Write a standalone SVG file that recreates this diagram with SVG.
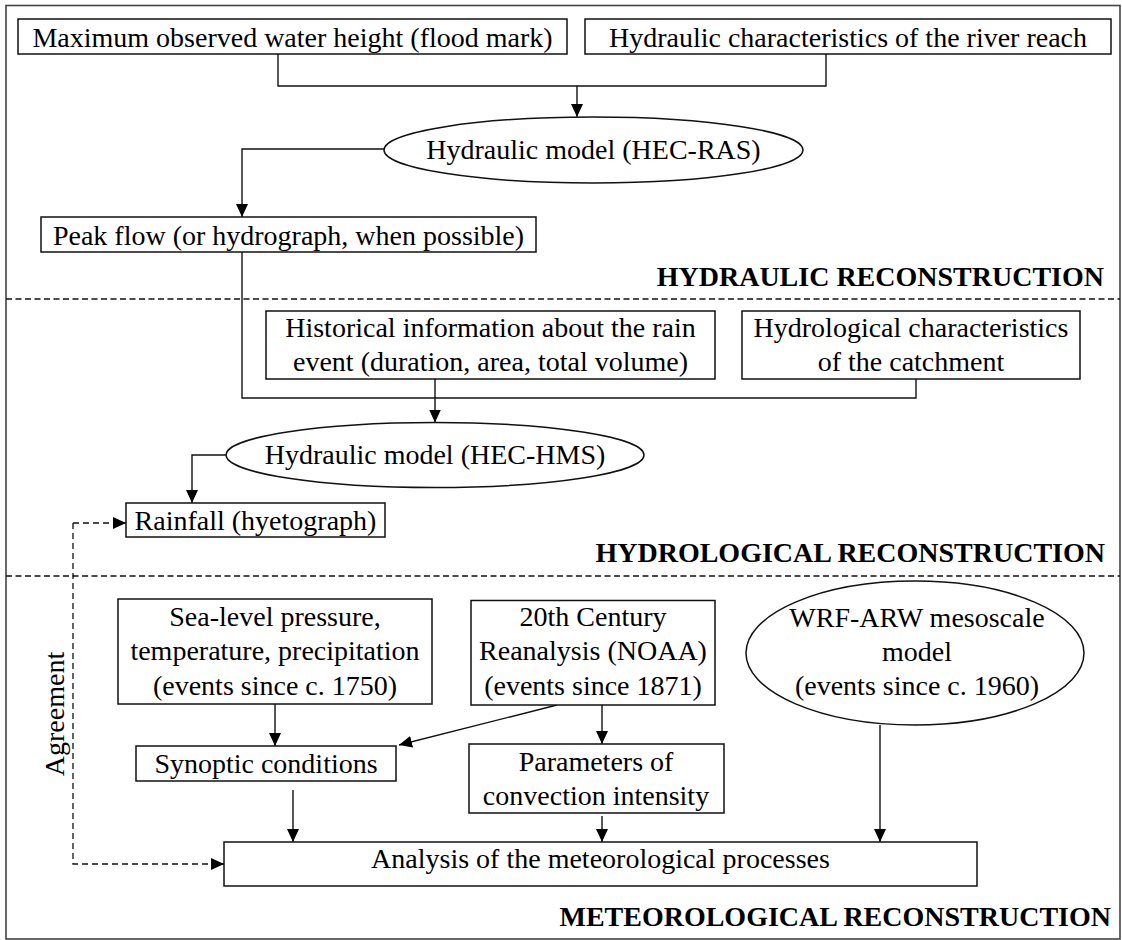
<svg xmlns="http://www.w3.org/2000/svg" width="1122" height="940" viewBox="0 0 1122 940">
<style>
text{font-family:"Liberation Serif","Times New Roman",serif;font-size:28px;fill:#000;text-anchor:middle}
.sec{font-weight:bold;text-anchor:end}
.box{fill:#fff;stroke:#111;stroke-width:1.5}
.ell{fill:#fff;stroke:#111;stroke-width:1.5}
.c{fill:none;stroke:#111;stroke-width:1.4}
.d{fill:none;stroke:#111;stroke-width:1.3;stroke-dasharray:6 4}
.div{fill:none;stroke:#111;stroke-width:1.3;stroke-dasharray:6 3.5}
</style>
<defs>
<marker id="ah" markerUnits="userSpaceOnUse" markerWidth="13" markerHeight="12" refX="13" refY="6" orient="auto">
<path d="M0,0 L13,6 L0,12 z" fill="#000"/>
</marker>
</defs>
<rect x="6" y="5.5" width="1114" height="933.5" fill="#fff" stroke="#444" stroke-width="1.6"/>
<g id="dividers">
<line class="div" x1="6" y1="299" x2="1120" y2="299"/>
<line class="div" x1="6" y1="576" x2="1120" y2="576"/>
</g>
<g id="section-labels">
<text class="sec" x="1104" y="286">HYDRAULIC RECONSTRUCTION</text>
<text class="sec" x="1105" y="562">HYDROLOGICAL RECONSTRUCTION</text>
<text class="sec" x="1111" y="926">METEOROLOGICAL RECONSTRUCTION</text>
</g>
<g id="connectors">
<polyline class="c" points="278,54 278,86 826,86 826,54"/>
<line class="c" x1="577" y1="86" x2="577" y2="117" marker-end="url(#ah)"/>
<polyline class="c" points="384,149 242,149 242,217" marker-end="url(#ah)"/>
<polyline class="c" points="242,252 242,398 916,398 916,379"/>
<line class="c" x1="435" y1="379" x2="435" y2="422.5" marker-end="url(#ah)"/>
<polyline class="c" points="226,455 192,455 192,503" marker-end="url(#ah)"/>
<polyline class="d" points="73,523 126,523" marker-end="url(#ah)"/>
<polyline class="d" points="73,523 73,864 224,864" marker-end="url(#ah)"/>
<line class="c" x1="275" y1="704" x2="275" y2="746" marker-end="url(#ah)"/>
<line class="c" x1="557" y1="705" x2="399" y2="745" marker-end="url(#ah)"/>
<line class="c" x1="602" y1="705" x2="602" y2="744" marker-end="url(#ah)"/>
<line class="c" x1="293" y1="790" x2="293" y2="842" marker-end="url(#ah)"/>
<line class="c" x1="602" y1="816" x2="602" y2="842" marker-end="url(#ah)"/>
<line class="c" x1="880" y1="725" x2="880" y2="842" marker-end="url(#ah)"/>
<text transform="translate(64,714) rotate(-90)">Agreement</text>
</g>
<g id="n-flood-mark">
<rect class="box" x="18" y="19" width="549" height="35"/>
<text x="292.5" y="47">Maximum observed water height (flood mark)</text>
</g>
<g id="n-river-reach">
<rect class="box" x="585" y="19" width="526" height="35"/>
<text x="848" y="47">Hydraulic characteristics of the river reach</text>
</g>
<g id="n-hec-ras">
<ellipse class="ell" cx="593.5" cy="150" rx="209.5" ry="33"/>
<text x="593.5" y="159">Hydraulic model (HEC-RAS)</text>
</g>
<g id="n-peak-flow">
<rect class="box" x="41" y="217" width="495" height="35"/>
<text x="288.5" y="245">Peak flow (or hydrograph, when possible)</text>
</g>
<g id="n-historical">
<rect class="box" x="266" y="311" width="449" height="68"/>
<text x="490.5" y="337">Historical information about the rain</text>
<text x="490.5" y="371">event (duration, area, total volume)</text>
</g>
<g id="n-catchment">
<rect class="box" x="742" y="311" width="338" height="68"/>
<text x="911" y="337">Hydrological characteristics</text>
<text x="911" y="371">of the catchment</text>
</g>
<g id="n-hec-hms">
<ellipse class="ell" cx="435" cy="455" rx="209" ry="32.5"/>
<text x="435" y="464">Hydraulic model (HEC-HMS)</text>
</g>
<g id="n-rainfall">
<rect class="box" x="126" y="503" width="259" height="34"/>
<text x="255.5" y="530">Rainfall (hyetograph)</text>
</g>
<g id="n-sea-level">
<rect class="box" x="118" y="599" width="314" height="105"/>
<text x="275" y="626">Sea-level pressure,</text>
<text x="275" y="660">temperature, precipitation</text>
<text x="275" y="695">(events since c. 1750)</text>
</g>
<g id="n-20th-century">
<rect class="box" x="471" y="600.5" width="244" height="104.5"/>
<text x="593" y="626">20th Century</text>
<text x="593" y="660">Reanalysis (NOAA)</text>
<text x="593" y="695">(events since 1871)</text>
</g>
<g id="n-wrf">
<ellipse class="ell" cx="915" cy="653" rx="169" ry="72"/>
<text x="917" y="627">WRF-ARW mesoscale</text>
<text x="917" y="661">model</text>
<text x="917" y="695">(events since c. 1960)</text>
</g>
<g id="n-synoptic">
<rect class="box" x="136" y="746" width="260" height="35"/>
<text x="266" y="773">Synoptic conditions</text>
</g>
<g id="n-parameters">
<rect class="box" x="469" y="744" width="255" height="69"/>
<text x="596" y="771">Parameters of</text>
<text x="596" y="805">convection intensity</text>
</g>
<g id="n-analysis">
<rect class="box" x="224" y="842" width="753" height="44"/>
<text x="600.5" y="868">Analysis of the meteorological processes</text>
</g>
</svg>
